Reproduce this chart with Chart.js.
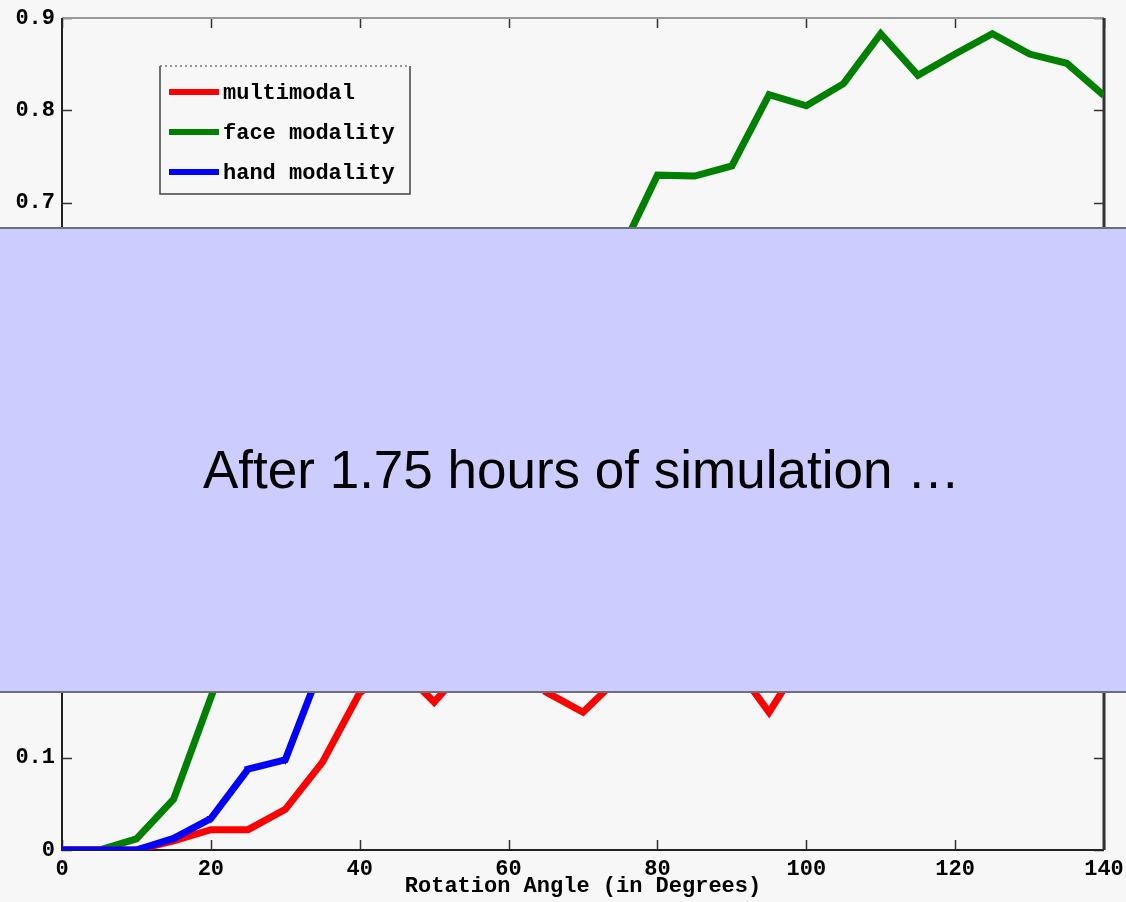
<!DOCTYPE html>
<html>
<head>
<meta charset="utf-8">
<script src="https://cdn.jsdelivr.net/npm/chart.js@4/dist/chart.umd.min.js"></script>
<style>
  html, body { margin: 0; padding: 0; background: #f7f7f7; }
  #wrap { position: relative; width: 1126px; height: 902px; overflow: hidden; }
  #banner {
    position: absolute; left: 0; top: 227px; width: 1126px; height: 466px;
    box-sizing: border-box; background: #ccccff;
    border-top: 2px solid #6f6f7a; border-bottom: 2px solid #6f6f7a;
  }
  #banner span {
    position: absolute; left: 203px; top: 210px; line-height: 53px;
    font: 53px "Liberation Sans", Arial, sans-serif; color: #000; white-space: nowrap;
  }
</style>
</head>
<body>
<div id="wrap">
  <canvas id="chart" width="1126" height="902"></canvas>
  <div id="banner"><span>After 1.75 hours of simulation …</span></div>
</div>
<script>
// rotation angle (degrees) and recognition rate per modality
const angles = [0, 5, 10, 15, 20, 25, 30, 35, 40, 45, 50, 55, 60, 65, 70,
                75, 80, 85, 90, 95, 100, 105, 110, 115, 120, 125, 130, 135, 140];
const multimodal = [0, 0, 0, 0.010, 0.022, 0.022, 0.044, 0.095, 0.170, 0.200, 0.160, 0.205, 0.215, 0.171, 0.149,
                    0.188, 0.210, 0.220, 0.204, 0.149, 0.213, 0.240, 0.250, 0.245, 0.255, 0.265, 0.260, 0.270, 0.275];
const faceModality = [0, 0, 0.012, 0.055, 0.165, 0.270, 0.350, 0.410, 0.460, 0.500, 0.530, 0.550, 0.575, 0.600, 0.620,
                      0.646, 0.730, 0.729, 0.740, 0.817, 0.805, 0.829, 0.883, 0.838, 0.861, 0.883, 0.861, 0.851, 0.816];
const handModality = [0, 0, 0, 0.0125, 0.034, 0.0875, 0.0975, 0.202, 0.270, 0.320, 0.350, 0.370, 0.385, 0.400, 0.410,
                      0.420, 0.440, 0.450, 0.460, 0.450, 0.470, 0.480, 0.490, 0.485, 0.500, 0.510, 0.505, 0.520, 0.530];
const xTicks = [0, 20, 40, 60, 80, 100, 120, 140];
const yTicks = [0, 0.1, 0.2, 0.3, 0.4, 0.5, 0.6, 0.7, 0.8, 0.9];

const MONO = "'Liberation Mono', 'DejaVu Sans Mono', monospace";
const toPoints = (ys) => angles.map((a, i) => ({ x: a, y: ys[i] }));

// matlab style box: frame on all four sides, ticks pointing inward
const boxFrame = {
  id: 'boxFrame',
  beforeDatasetsDraw(chart) {
    const { ctx, chartArea: a, scales: { x, y } } = chart;
    ctx.save();
    ctx.strokeStyle = '#333';
    ctx.lineWidth = 1.5;
    x.ticks.forEach(t => {
      const px = Math.round(x.getPixelForValue(t.value)) + 0.5;
      ctx.beginPath();
      ctx.moveTo(px, a.bottom); ctx.lineTo(px, a.bottom - 10);
      ctx.moveTo(px, a.top); ctx.lineTo(px, a.top + 10);
      ctx.stroke();
    });
    y.ticks.forEach(t => {
      const py = Math.round(y.getPixelForValue(t.value)) + 0.5;
      ctx.beginPath();
      ctx.moveTo(a.left, py); ctx.lineTo(a.left + 10, py);
      ctx.moveTo(a.right, py); ctx.lineTo(a.right - 10, py);
      ctx.stroke();
    });
    ctx.lineWidth = 2;
    ctx.strokeStyle = '#999';
    ctx.beginPath(); ctx.moveTo(a.left, a.top); ctx.lineTo(a.right, a.top); ctx.stroke();
    ctx.strokeStyle = '#222';
    ctx.beginPath();
    ctx.moveTo(a.left, a.top); ctx.lineTo(a.left, a.bottom); ctx.lineTo(a.right, a.bottom);
    ctx.stroke();
    ctx.lineWidth = 3;
    ctx.strokeStyle = '#333';
    ctx.beginPath(); ctx.moveTo(a.right, a.top); ctx.lineTo(a.right, a.bottom); ctx.stroke();
    ctx.restore();
  }
};

// legend box inside the axes, upper left
const insetLegend = {
  id: 'insetLegend',
  afterDatasetsDraw(chart) {
    const { ctx, chartArea: a } = chart;
    const bx = a.left + 98, by = a.top + 48, bw = 250, bh = 128;
    ctx.save();
    ctx.fillStyle = '#f7f7f7';
    ctx.fillRect(bx, by, bw, bh);
    ctx.strokeStyle = '#444';
    ctx.lineWidth = 1.5;
    ctx.beginPath();
    ctx.moveTo(bx, by); ctx.lineTo(bx, by + bh); ctx.lineTo(bx + bw, by + bh); ctx.lineTo(bx + bw, by);
    ctx.stroke();
    ctx.setLineDash([2, 3]);
    ctx.strokeStyle = '#777';
    ctx.beginPath(); ctx.moveTo(bx, by); ctx.lineTo(bx + bw, by); ctx.stroke();
    ctx.setLineDash([]);
    ctx.font = 'bold 22px ' + MONO;
    ctx.textBaseline = 'middle';
    ctx.fillStyle = '#000';
    chart.data.datasets.forEach((ds, i) => {
      const ly = by + 26 + i * 40;
      ctx.strokeStyle = ds.borderColor;
      ctx.lineWidth = 6;
      ctx.beginPath(); ctx.moveTo(bx + 9, ly); ctx.lineTo(bx + 59, ly); ctx.stroke();
      ctx.fillText(ds.label, bx + 63, ly + 1);
    });
    ctx.restore();
  }
};

new Chart(document.getElementById('chart'), {
  type: 'line',
  data: {
    datasets: [
      { label: 'multimodal', data: toPoints(multimodal), borderColor: '#ff0000', backgroundColor: '#ff0000',
        borderWidth: 7, pointRadius: 0, order: 1 },
      { label: 'face modality', data: toPoints(faceModality), borderColor: '#008000', backgroundColor: '#008000',
        borderWidth: 7, pointRadius: 0, order: 2 },
      { label: 'hand modality', data: toPoints(handModality), borderColor: '#0000ff', backgroundColor: '#0000ff',
        borderWidth: 7, pointRadius: 5, pointStyle: 'triangle', rotation: 180, pointBorderWidth: 0, order: 0 }
    ]
  },
  options: {
    responsive: false,
    animation: false,
    devicePixelRatio: 1,
    layout: { padding: { top: 18, right: 22, left: 0, bottom: 0 } },
    plugins: { legend: { display: false }, tooltip: { enabled: false } },
    elements: { line: { tension: 0, borderJoinStyle: 'miter' } },
    scales: {
      x: {
        type: 'linear', min: 0, max: 140,
        afterBuildTicks: (s) => { s.ticks = xTicks.map(v => ({ value: v })); },
        afterFit: (s) => { s.height = 52; s.paddingLeft = 0; s.paddingRight = 0; },
        grid: { display: false, drawTicks: false },
        border: { display: false },
        ticks: { color: '#000', padding: 6, font: { family: MONO, size: 22, weight: 'bold' } },
        title: { display: true, text: 'Rotation Angle (in Degrees)', color: '#000',
                 padding: { top: 0, bottom: 2 }, font: { family: MONO, size: 22, weight: 'bold' } }
      },
      y: {
        min: 0, max: 0.9,
        afterBuildTicks: (s) => { s.ticks = yTicks.map(v => ({ value: v })); },
        afterFit: (s) => { s.width = 62; s.paddingTop = 0; s.paddingBottom = 0; },
        grid: { display: false, drawTicks: false },
        border: { display: false },
        ticks: { color: '#000', padding: 7, font: { family: MONO, size: 22, weight: 'bold' },
                 callback: (v) => v === 0 ? '0' : v.toFixed(1) }
      }
    }
  },
  plugins: [boxFrame, insetLegend]
});
</script>
</body>
</html>
